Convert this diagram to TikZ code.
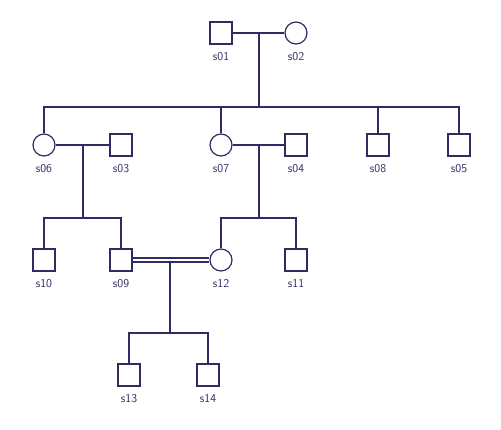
\documentclass[tikz,border=0pt]{standalone}
\usepackage{tikz}
\usetikzlibrary{calc}
\definecolor{ink}{RGB}{45, 45, 100}

\tikzset{
  male/.style={draw=ink, line width=1.2pt, fill=white, minimum size=22pt, inner sep=0pt},
  female/.style={draw=ink, line width=1.2pt, fill=white, circle, minimum size=22pt, inner sep=0pt},
  lbl/.style={below=4pt, text=ink, font=\sffamily\fontsize{12}{14}\selectfont}
}

\begin{document}
\begin{tikzpicture}[x=1pt, y=-1pt, line width=1.2pt, ink]
  \useasboundingbox (0, 0) rectangle (501, 429);

  % generation I
  \node[male] (s01) at (221, 33) {};
  \node[female] (s02) at (296, 33) {};
  % generation II
  \node[female] (s06) at (44, 145) {};
  \node[male] (s03) at (121, 145) {};
  \node[female] (s07) at (221, 145) {};
  \node[male] (s04) at (296, 145) {};
  \node[male] (s08) at (378, 145) {};
  \node[male] (s05) at (459, 145) {};
  % generation III
  \node[male] (s10) at (44, 260) {};
  \node[male] (s09) at (121, 260) {};
  \node[female] (s12) at (221, 260) {};
  \node[male] (s11) at (296, 260) {};
  % generation IV
  \node[male] (s13) at (129, 375) {};
  \node[male] (s14) at (208, 375) {};

  \foreach \n in {s01, s02, s06, s03, s07, s04, s08, s05, s10, s09, s12, s11, s13, s14}
    \node[lbl] at (\n.south) {\n};

  % couples
  \draw (s01.east) -- (s02.west);
  \draw (s06.east) -- (s03.west);
  \draw (s07.east) -- (s04.west);
  \draw ($(s09.east)+(0,-2)$) -- ($(s12.west)+(0,-2)$);
  \draw ($(s09.east)+(0,2)$) -- ($(s12.west)+(0,2)$);

  % sibships
  \coordinate (c1) at (259, 107);
  \draw (259, 33) -- (c1);
  \draw (s06.north) |- (c1) -| (s05.north);
  \draw (s07.north) -- (s07.north |- c1);
  \draw (s08.north) -- (s08.north |- c1);

  \coordinate (c2) at (83, 218);
  \draw (83, 145) -- (c2);
  \draw (s10.north) |- (c2) -| (s09.north);

  \coordinate (c3) at (259, 218);
  \draw (259, 145) -- (c3);
  \draw (s12.north) |- (c3) -| (s11.north);

  \coordinate (c4) at (170, 333);
  \draw (170, 262) -- (c4);
  \draw (s13.north) |- (c4) -| (s14.north);
\end{tikzpicture}
\end{document}
